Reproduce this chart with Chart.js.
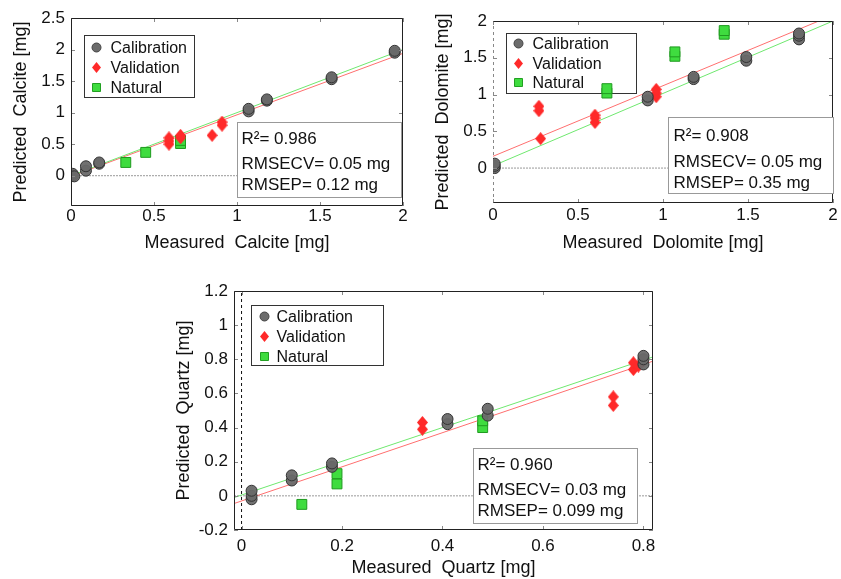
<!DOCTYPE html>
<html>
<head>
<meta charset="utf-8">
<title>Predicted vs measured</title>
<script src="https://cdn.jsdelivr.net/npm/chart.js"></script>
<style>
	body { margin: 0; background: #fff; }
	canvas { position: absolute; }
</style>
</head>
<body>

<canvas id="calcite" width="420" height="260" style="left:0px;top:0px"></canvas>
<canvas id="dolomite" width="421" height="260" style="left:420px;top:0px"></canvas>
<canvas id="quartz" width="520" height="309" style="left:160px;top:270px"></canvas>

<script type="text/javascript">
// ---- Calcite ----
let calciteCalibX = [0.01, 0.01, 0.02, 0.09, 0.09, 0.17, 0.17, 1.07, 1.07, 1.18, 1.18, 1.57, 1.57, 1.95, 1.95];
let calciteCalibY = [0.00, 0.03, -0.01, 0.08, 0.15, 0.19, 0.21, 1.02, 1.06, 1.19, 1.21, 1.53, 1.56, 1.95, 1.98];
let calciteValidX = [0.59, 0.59, 0.59, 0.66, 0.66, 0.85, 0.91, 0.91];
let calciteValidY = [0.50, 0.55, 0.60, 0.60, 0.64, 0.64, 0.80, 0.85];
let calciteNatX = [0.33, 0.45, 0.66, 0.66];
let calciteNatY = [0.21, 0.37, 0.51, 0.56];
let calciteFitGreenX = [0, 2];
let calciteFitGreenY = [0, 2.0];
let calciteFitRedX = [0, 2];
let calciteFitRedY = [-0.01, 1.94];
let calciteXTicks = [0, 0.5, 1, 1.5, 2];
let calciteYTicks = [0, 0.5, 1, 1.5, 2, 2.5];
let calciteStats = ['R\u00b2= 0.986', 'RMSECV= 0.05 mg', 'RMSEP= 0.12 mg'];

// ---- Dolomite ----
let dolomiteCalibX = [0.01, 0.01, 0.01, 0.91, 0.91, 1.18, 1.18, 1.49, 1.49, 1.80, 1.80, 1.80];
let dolomiteCalibY = [0.00, 0.03, 0.06, 0.92, 0.97, 1.21, 1.24, 1.46, 1.51, 1.75, 1.80, 1.83];
let dolomiteValidX = [0.27, 0.27, 0.28, 0.60, 0.60, 0.60, 0.96, 0.96, 0.96];
let dolomiteValidY = [0.78, 0.84, 0.40, 0.62, 0.68, 0.72, 0.97, 1.02, 1.07];
let dolomiteNatX = [0.67, 0.67, 1.07, 1.07, 1.36, 1.36];
let dolomiteNatY = [1.02, 1.08, 1.52, 1.58, 1.82, 1.87];
let dolomiteFitGreenX = [0, 2];
let dolomiteFitGreenY = [0.03, 2.0];
let dolomiteFitRedX = [0, 2];
let dolomiteFitRedY = [0.16, 2.08];
let dolomiteXTicks = [0, 0.5, 1, 1.5, 2];
let dolomiteYTicks = [0, 0.5, 1, 1.5, 2];
let dolomiteStats = ['R\u00b2= 0.908', 'RMSECV= 0.05 mg', 'RMSEP= 0.35 mg'];

// ---- Quartz ----
let quartzCalibX = [0.02, 0.02, 0.02, 0.10, 0.10, 0.18, 0.18, 0.41, 0.41, 0.49, 0.49, 0.80, 0.80, 0.80];
let quartzCalibY = [-0.02, 0.00, 0.03, 0.09, 0.12, 0.17, 0.19, 0.42, 0.45, 0.47, 0.51, 0.77, 0.80, 0.82];
let quartzValidX = [0.36, 0.36, 0.74, 0.74, 0.78, 0.78, 0.79, 0.80];
let quartzValidY = [0.39, 0.43, 0.53, 0.58, 0.74, 0.78, 0.76, 0.79];
let quartzNatX = [0.12, 0.19, 0.19, 0.48, 0.48];
let quartzNatY = [-0.05, 0.07, 0.13, 0.40, 0.44];
let quartzFitGreenX = [-0.015, 0.82];
let quartzFitGreenY = [-0.01, 0.815];
let quartzFitRedX = [-0.015, 0.82];
let quartzFitRedY = [-0.045, 0.79];
let quartzXTicks = [0, 0.2, 0.4, 0.6, 0.8];
let quartzYTicks = [-0.2, 0, 0.2, 0.4, 0.6, 0.8, 1, 1.2];
let quartzStats = ['R\u00b2= 0.960', 'RMSECV= 0.03 mg', 'RMSEP= 0.099 mg'];

let seriesNames = ['Calibration', 'Validation', 'Natural'];

const FONT = "'Liberation Sans', Arial, sans-serif";

function pts(xs, ys) {
	return xs.map((x, i) => ({x: x, y: ys[i]}));
}

// a slightly tall diamond, like the matlab 'd' marker
let diamond = document.createElement('canvas');
diamond.width = 11;
diamond.height = 13;
(function () {
	let g = diamond.getContext('2d');
	g.beginPath();
	g.moveTo(5.5, 0); g.lineTo(11, 6.5); g.lineTo(5.5, 13); g.lineTo(0, 6.5);
	g.closePath();
	g.fillStyle = '#ff2a2a';
	g.fill();
})();

// legend marker in the little box
function drawMarker(ctx, kind, x, y) {
	ctx.beginPath();
	if (kind == 0) {
		ctx.arc(x, y, 4.5, 0, Math.PI * 2);
		ctx.fillStyle = '#6c6c6c'; ctx.fill();
		ctx.strokeStyle = '#444'; ctx.lineWidth = 1; ctx.stroke();
	} else if (kind == 1) {
		ctx.moveTo(x, y - 5.5); ctx.lineTo(x + 4.5, y); ctx.lineTo(x, y + 5.5); ctx.lineTo(x - 4.5, y);
		ctx.closePath();
		ctx.fillStyle = '#ff2a2a'; ctx.fill();
	} else {
		ctx.rect(x - 4, y - 4, 8, 8);
		ctx.fillStyle = '#3fdc3f'; ctx.fill();
		ctx.strokeStyle = '#22a022'; ctx.lineWidth = 1; ctx.stroke();
	}
}

const framePlugin = {
	id: 'frame',
	// legend box sits under the points (a natural sample overlaps it in the dolomite plot)
	beforeDatasetsDraw(chart, args, o) {
		const ctx = chart.ctx, a = chart.chartArea;
		const L = o.legend;
		ctx.save();
		let lx = Math.round(a.left + L.left) + 0.5, ly = Math.round(a.top + L.top) + 0.5;
		ctx.fillStyle = '#fff';
		ctx.fillRect(lx, ly, L.w, L.h);
		ctx.strokeStyle = '#333';
		ctx.lineWidth = 1;
		ctx.strokeRect(lx, ly, L.w, L.h);
		ctx.font = '16px ' + FONT;
		ctx.textBaseline = 'middle';
		ctx.textAlign = 'left';
		for (let i = 0; i < 3; i++) {
			let y = ly + L.rows[i];
			drawMarker(ctx, i, lx + L.mx, y);
			ctx.fillStyle = '#111';
			ctx.fillText(chart.data.datasets[i].label, lx + L.tx, y + 1);
		}
		ctx.restore();
	},
	afterDatasetsDraw(chart, args, o) {
		const ctx = chart.ctx, a = chart.chartArea;
		const sx = chart.scales.x, sy = chart.scales.y;
		ctx.save();

		// inward tick marks on all four sides
		ctx.strokeStyle = '#888';
		ctx.lineWidth = 1;
		ctx.beginPath();
		sx.ticks.forEach(t => {
			let p = Math.round(sx.getPixelForValue(t.value)) + 0.5;
			ctx.moveTo(p, a.bottom); ctx.lineTo(p, a.bottom - 4);
			ctx.moveTo(p, a.top); ctx.lineTo(p, a.top + 4);
		});
		sy.ticks.forEach(t => {
			let p = Math.round(sy.getPixelForValue(t.value)) + 0.5;
			ctx.moveTo(a.left, p); ctx.lineTo(a.left + 4, p);
			ctx.moveTo(a.right, p); ctx.lineTo(a.right - 4, p);
		});
		ctx.stroke();

		// axes box
		let l = Math.round(a.left) + 0.5, r = Math.round(a.right) - 0.5;
		let t = Math.round(a.top) + 0.5, b = Math.round(a.bottom) - 0.5;
		ctx.strokeStyle = '#222';
		ctx.beginPath();
		ctx.moveTo(l, t); ctx.lineTo(r, t); ctx.lineTo(r, b); ctx.lineTo(l, b);
		if (!o.dashedLeft) ctx.lineTo(l, t);
		ctx.stroke();

		// statistics box
		const S = o.stats;
		let bx = Math.round(a.left + S.left) + 0.5, by = Math.round(a.top + S.top) + 0.5;
		ctx.fillStyle = '#fff';
		ctx.fillRect(bx, by, S.w, S.h);
		ctx.strokeStyle = '#999';
		ctx.strokeRect(bx, by, S.w, S.h);
		ctx.font = '17px ' + FONT;
		ctx.textBaseline = 'alphabetic';
		ctx.textAlign = 'left';
		ctx.fillStyle = '#111';
		S.text.forEach((s, i) => ctx.fillText(s, bx + S.tx, by + S.rows[i]));

		ctx.restore();
	}
};

function makeChart(id, c) {
	let datasets = [
		{label: seriesNames[0], data: pts(c.calib[0], c.calib[1]), pointStyle: 'circle', pointRadius: 5.5,
			backgroundColor: 'rgba(105,105,105,0.95)', borderColor: '#333', borderWidth: 1},
		{label: seriesNames[1], data: pts(c.valid[0], c.valid[1]), pointStyle: diamond, pointRadius: 6,
			backgroundColor: '#ff2a2a', borderColor: '#ff2a2a', borderWidth: 0},
		{label: seriesNames[2], data: pts(c.nat[0], c.nat[1]), pointStyle: 'rect', pointRadius: 7,
			backgroundColor: '#3fdc3f', borderColor: '#1f9a1f', borderWidth: 1},
		{label: 'fit green', data: pts(c.fitG[0], c.fitG[1]), showLine: true, pointRadius: 0,
			borderColor: '#6fe86f', borderWidth: 1},
		{label: 'fit red', data: pts(c.fitR[0], c.fitR[1]), showLine: true, pointRadius: 0,
			borderColor: '#ff6f6f', borderWidth: 1},
		{label: 'zero', data: pts([c.xMin, c.xMax], [0, 0]), showLine: true, pointRadius: 0,
			borderColor: '#999', borderWidth: 1, borderDash: [2, 1]}
	];
	if (c.zeroV) {
		datasets.push({label: 'x0', data: pts([0, 0], [c.yMin, c.yMax]), showLine: true, pointRadius: 0,
			borderColor: '#111', borderWidth: 1, borderDash: [3, 3]});
	}

	return new Chart(document.getElementById(id), {
		type: 'scatter',
		data: {datasets: datasets},
		plugins: [framePlugin],
		options: {
			responsive: false,
			animation: false,
			layout: {padding: c.pad},
			plugins: {
				legend: {display: false},
				tooltip: {enabled: false},
				frame: {legend: c.legend, stats: c.stats, dashedLeft: c.dashedLeft}
			},
			scales: {
				x: {
					type: 'linear', min: c.xMin, max: c.xMax,
					grid: {display: false, drawTicks: false},
					border: {display: false},
					afterBuildTicks: s => { s.ticks = c.xTicks.map(v => ({value: v})); },
					afterFit: s => { s.height = c.xHeight; s.paddingLeft = 0; s.paddingRight = 0; },
					ticks: {padding: c.xTickPad, color: '#111', font: {family: FONT, size: 17},
						maxRotation: 0, autoSkip: false, callback: v => String(v)},
					title: {display: true, text: c.xTitle, color: '#111', font: {family: FONT, size: 18},
						padding: {top: 0, bottom: c.xTitlePad}}
				},
				y: {
					type: 'linear', min: c.yMin, max: c.yMax,
					grid: {display: false, drawTicks: false},
					border: {display: false},
					afterBuildTicks: s => { s.ticks = c.yTicks.map(v => ({value: v})); },
					afterFit: s => { s.width = c.yWidth; s.paddingTop = 0; s.paddingBottom = 0; },
					ticks: {padding: 6, color: '#111', font: {family: FONT, size: 17},
						autoSkip: false, callback: v => String(v)},
					title: {display: true, text: c.yTitle, color: '#111', font: {family: FONT, size: 18},
						padding: {top: c.yTitlePad, bottom: 0}}
				}
			}
		}
	});
}

makeChart('calcite', {
	calib: [calciteCalibX, calciteCalibY], valid: [calciteValidX, calciteValidY], nat: [calciteNatX, calciteNatY],
	fitG: [calciteFitGreenX, calciteFitGreenY], fitR: [calciteFitRedX, calciteFitRedY],
	xMin: 0, xMax: 2, yMin: -0.48, yMax: 2.5, xTicks: calciteXTicks, yTicks: calciteYTicks,
	xTitle: 'Measured  Calcite [mg]', yTitle: 'Predicted  Calcite [mg]',
	pad: {top: 18, right: 17, left: 0, bottom: 0}, yWidth: 71, xHeight: 54,
	xTickPad: 0, xTitlePad: 6, yTitlePad: 10,
	legend: {left: 13, top: 17, w: 110, h: 62, mx: 12, tx: 26, rows: [12, 32, 52]},
	stats: {left: 166, top: 104, w: 164, h: 75, tx: 4, rows: [21, 46, 67], text: calciteStats}
});

makeChart('dolomite', {
	calib: [dolomiteCalibX, dolomiteCalibY], valid: [dolomiteValidX, dolomiteValidY], nat: [dolomiteNatX, dolomiteNatY],
	fitG: [dolomiteFitGreenX, dolomiteFitGreenY], fitR: [dolomiteFitRedX, dolomiteFitRedY],
	xMin: 0, xMax: 2, yMin: -0.475, yMax: 2, xTicks: dolomiteXTicks, yTicks: dolomiteYTicks,
	xTitle: 'Measured  Dolomite [mg]', yTitle: 'Predicted  Dolomite [mg]',
	pad: {top: 21, right: 3, left: 0, bottom: 0}, yWidth: 73, xHeight: 57,
	xTickPad: 2, xTitlePad: 6, yTitlePad: 12, zeroV: true, dashedLeft: true,
	legend: {left: 13, top: 12, w: 130, h: 60, mx: 12, tx: 26, rows: [10, 30, 49]},
	stats: {left: 175, top: 96, w: 165, h: 76, tx: 5, rows: [23, 49, 70], text: dolomiteStats}
});

makeChart('quartz', {
	calib: [quartzCalibX, quartzCalibY], valid: [quartzValidX, quartzValidY], nat: [quartzNatX, quartzNatY],
	fitG: [quartzFitGreenX, quartzFitGreenY], fitR: [quartzFitRedX, quartzFitRedY],
	xMin: -0.015, xMax: 0.819, yMin: -0.2, yMax: 1.2, xTicks: quartzXTicks, yTicks: quartzYTicks,
	xTitle: 'Measured  Quartz [mg]', yTitle: 'Predicted  Quartz [mg]',
	pad: {top: 21, right: 27, left: 0, bottom: 0}, yWidth: 74, xHeight: 49,
	xTickPad: 6, xTitlePad: 0, yTitlePad: 13, zeroV: true,
	legend: {left: 17, top: 14, w: 132, h: 60, mx: 13, tx: 25, rows: [11, 31, 51]},
	stats: {left: 239, top: 157, w: 164, h: 75, tx: 4, rows: [21, 46, 67], text: quartzStats}
});
</script>

</body>
</html>
